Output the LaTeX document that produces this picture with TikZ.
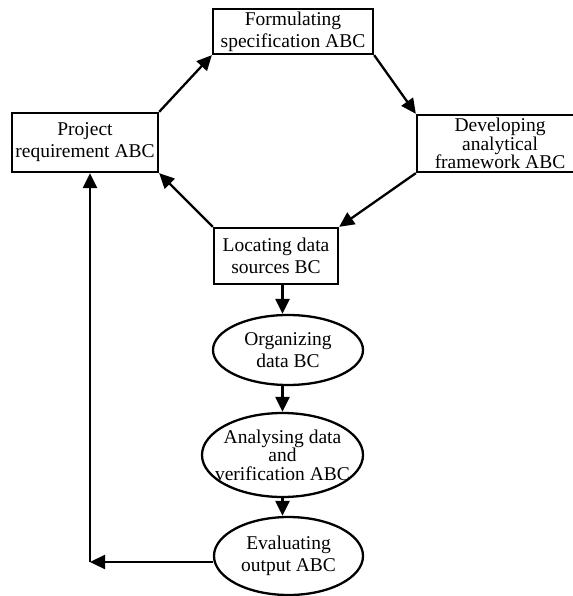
\documentclass[tikz,border=0pt]{standalone}
\usepackage{fontspec}
\setmainfont{Liberation Serif}
\usetikzlibrary{arrows.meta,shapes.geometric}
\begin{document}
\begin{tikzpicture}[x=1pt,y=-1pt,
  every node/.style={align=center, font=\fontsize{19.5}{22}\selectfont},
  boxnode/.style={draw, rectangle, line width=2.3pt, inner sep=0pt},
  ellnode/.style={draw, ellipse, line width=2.3pt, inner sep=0pt},
  threeline/.style={font=\fontsize{19.5}{18.5}\selectfont},
  conn/.style={line width=2.3pt, -{Triangle[length=15pt,width=14pt]}}
]
\useasboundingbox (0,0) rectangle (572,596);

\node[boxnode, minimum width=160pt, minimum height=45pt] (frm) at (293,31.5)
  {Formulating\\specification ABC};
\node[boxnode, minimum width=146pt, minimum height=59pt] (prj) at (85,142.5)
  {Project\\requirement ABC};
\node[boxnode, threeline, minimum width=166pt, minimum height=57pt] (dev) at (500,143.5)
  {Developing\\analytical\\framework ABC};
\node[boxnode, minimum width=124pt, minimum height=56pt] (loc) at (276,256)
  {Locating data\\sources BC};

\node[ellnode, minimum width=150pt, minimum height=70pt,
  label={[align=center,font=\fontsize{19.5}{22}\selectfont]center:Organizing\\data BC}] (org) at (288,350) {};
\node[ellnode, minimum width=161pt, minimum height=84pt,
  label={[align=center,font=\fontsize{19.5}{18.5}\selectfont]center:Analysing data\\and\\verification ABC}] (ana) at (282.5,455) {};
\node[ellnode, minimum width=149pt, minimum height=78pt,
  label={[align=center,font=\fontsize{19.5}{22}\selectfont]center:Evaluating\\output ABC}] (eva) at (288.5,556) {};

\coordinate (fb) at (90,562);

\draw[conn] (prj.north east) -- (frm.south west);
\draw[conn] (frm.south east) -- (dev.north west);
\draw[conn] (dev.south west) -- (loc.north east);
\draw[conn] (loc.north west) -- (prj.south east);
\draw[conn] (loc.south -| ana.north) -- (org.north -| ana.north);
\draw[conn] (org.south -| ana.north) -- (ana.north);
\draw[conn] (ana.south) -- (eva.north -| ana.south);
\draw[conn] (eva.west |- fb) -- (fb);
\draw[conn] (fb) -- (prj.south -| fb);
\end{tikzpicture}
\end{document}
